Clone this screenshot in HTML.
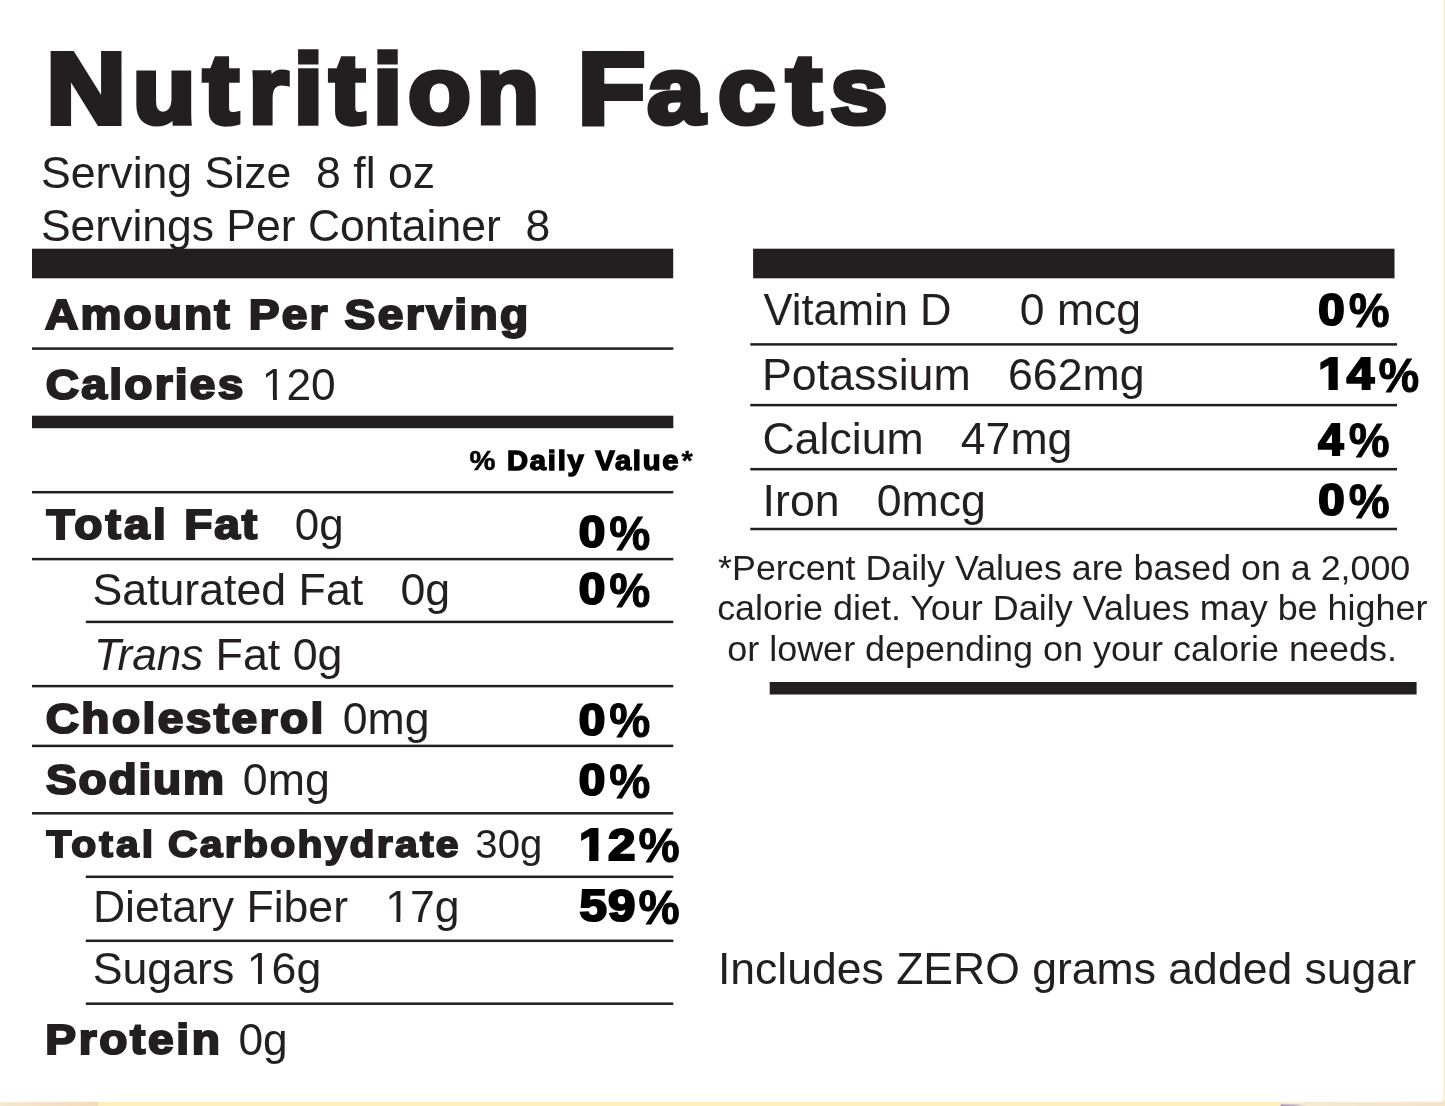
<!DOCTYPE html>
<html lang="en"><head><meta charset="utf-8"><title>Nutrition Facts</title>
<style>
html,body{margin:0;padding:0;background:#fff;}
body{width:1445px;height:1106px;overflow:hidden;position:relative;font-family:"Liberation Sans",Arial,Helvetica,sans-serif;}
svg{position:absolute;left:0;top:0;display:block;font-family:"Liberation Sans",Arial,Helvetica,sans-serif;}
text{white-space:pre;}
</style></head><body>
<svg width="1445" height="1106" viewBox="0 0 1445 1106">
<g fill="#231f20">
<rect x="32" y="248.7" width="641.2" height="29.6"/>
<rect x="753.1" y="248.7" width="641.4" height="29.6"/>
<rect x="32" y="415.7" width="641.3" height="12.5"/>
<rect x="769.7" y="682" width="646.9" height="12.5"/>
<rect x="32" y="347.35" width="641.3" height="2.5"/>
<rect x="32" y="490.95" width="641.3" height="2.5"/>
<rect x="32" y="557.85" width="641.3" height="2.5"/>
<rect x="32" y="684.85" width="641.3" height="2.5"/>
<rect x="32" y="744.65" width="641.3" height="2.5"/>
<rect x="32" y="812.05" width="641.3" height="2.5"/>
<rect x="85.8" y="620.65" width="587.5" height="2.5"/>
<rect x="85.8" y="875.55" width="587.5" height="2.5"/>
<rect x="85.8" y="939.55" width="587.5" height="2.5"/>
<rect x="85.8" y="1002.45" width="587.5" height="2.5"/>
<rect x="750.3" y="343.15" width="646.7" height="2.5"/>
<rect x="750.3" y="403.85" width="646.7" height="2.5"/>
<rect x="750.3" y="467.95" width="646.7" height="2.5"/>
<rect x="750.3" y="527.75" width="646.7" height="2.5"/>
</g>
<defs>
<linearGradient id="gl" x1="0" x2="1" y1="0" y2="0"><stop offset="0" stop-color="#f6e9d2"/><stop offset="0.45" stop-color="#f4e2c6"/><stop offset="1" stop-color="#f2dbb9"/></linearGradient>
<linearGradient id="gr" x1="0" x2="1" y1="0" y2="0"><stop offset="0" stop-color="#f6ecd6"/><stop offset="0.5" stop-color="#f5e6cf"/><stop offset="1" stop-color="#f4e4cc"/></linearGradient>
<linearGradient id="gp" x1="0" x2="1" y1="0" y2="0"><stop offset="0" stop-color="#8f7aa6" stop-opacity="0.85"/><stop offset="0.6" stop-color="#a898b4" stop-opacity="0.6"/><stop offset="1" stop-color="#c8bcc8" stop-opacity="0"/></linearGradient>
</defs>
<rect x="0" y="1101.9" width="1445" height="4.1" fill="#ffefbd"/>
<rect x="0" y="1101.9" width="98.2" height="4.1" fill="url(#gl)"/>
<rect x="1280.3" y="1101.9" width="164.7" height="4.1" fill="url(#gr)"/>
<rect x="1280.6" y="1104.4" width="26" height="1.6" fill="url(#gp)"/>
<rect x="1443.6" y="0" width="1.4" height="1106" fill="#f5e6cc"/>
<path d="M1441.5 1101.9 L1443.6 1101.9 L1443.6 1099.8 Z" fill="#f5e6cc"/>

<text xml:space="preserve" transform="scale(1.0900 1)" fill="#231f20" font-weight="700" stroke="#231f20" stroke-linejoin="miter" stroke-miterlimit="3"><tspan x="42.64" y="122.95" font-size="100.60" stroke-width="5.90">N</tspan><tspan x="121.72" y="123.33" font-size="94.40" stroke-width="5.15">u</tspan><tspan x="186.43" y="123.25" font-size="98.00" stroke-width="5.30">t</tspan><tspan x="228.09" y="123.33" font-size="94.40" stroke-width="5.15">r</tspan><tspan x="269.19" y="123.25" font-size="98.00" stroke-width="5.30">i</tspan><tspan x="302.31" y="123.25" font-size="98.00" stroke-width="5.30">t</tspan><tspan x="341.94" y="123.25" font-size="98.00" stroke-width="5.30">i</tspan><tspan x="374.29" y="123.33" font-size="94.40" stroke-width="5.15">o</tspan><tspan x="437.22" y="123.33" font-size="94.40" stroke-width="5.15">n</tspan></text>
<text xml:space="preserve" transform="scale(1.0900 1)" fill="#231f20" font-weight="700" stroke="#231f20" stroke-linejoin="miter" stroke-miterlimit="3"><tspan x="530.23" y="122.95" font-size="100.60" stroke-width="5.90">F</tspan><tspan x="593.76" y="123.33" font-size="94.40" stroke-width="5.15">a</tspan><tspan x="658.70" y="123.33" font-size="94.40" stroke-width="5.15">c</tspan><tspan x="721.43" y="123.25" font-size="98.00" stroke-width="5.30">t</tspan><tspan x="761.78" y="123.33" font-size="94.40" stroke-width="5.15">s</tspan></text>
<text xml:space="preserve" transform="translate(40.96 188.20) scale(0.9979 1)" font-size="44.700" fill="#231f20">Serving Size  8 fl oz</text>
<text xml:space="preserve" transform="translate(40.94 240.90) scale(0.9954 1)" font-size="44.700" fill="#231f20">Servings Per Container  8</text>
<text xml:space="preserve" transform="translate(45.09 329.44) scale(1.0900 1)" font-size="42.310" fill="#231f20" font-weight="700" stroke="#231f20" stroke-width="2.115" stroke-linejoin="miter" stroke-miterlimit="3" letter-spacing="1.918">Amount</text>
<text xml:space="preserve" transform="translate(248.81 329.44) scale(1.0900 1)" font-size="42.310" fill="#231f20" font-weight="700" stroke="#231f20" stroke-width="2.115" stroke-linejoin="miter" stroke-miterlimit="3" letter-spacing="1.927">Per</text>
<text xml:space="preserve" transform="translate(344.58 329.44) scale(1.0900 1)" font-size="42.310" fill="#231f20" font-weight="700" stroke="#231f20" stroke-width="2.115" stroke-linejoin="miter" stroke-miterlimit="3" letter-spacing="2.215">Serving</text>
<text xml:space="preserve" transform="translate(45.76 398.94) scale(1.0900 1)" font-size="42.310" fill="#231f20" font-weight="700" stroke="#231f20" stroke-width="2.115" stroke-linejoin="miter" stroke-miterlimit="3" letter-spacing="2.052">Calories</text>
<text xml:space="preserve" transform="translate(261.84 400.00) scale(1.0000 1)" font-size="44.300" fill="#231f20">120</text>
<rect x="264.22" y="395.89" width="8.77" height="5.81" fill="#fff"/>
<rect x="276.90" y="395.89" width="8.42" height="5.81" fill="#fff"/>
<text xml:space="preserve" transform="translate(469.49 470.43) scale(1.0900 1)" font-size="26.812" fill="#000" font-weight="700" stroke="#000" stroke-width="1.341" stroke-linejoin="miter" stroke-miterlimit="3" letter-spacing="1.579"><tspan stroke-width="0.536">%</tspan> Daily Value<tspan stroke-width="0.268" dx="1.07">*</tspan></text>
<text xml:space="preserve" transform="translate(46.41 539.24) scale(1.0900 1)" font-size="42.310" fill="#231f20" font-weight="700" stroke="#231f20" stroke-width="2.115" stroke-linejoin="miter" stroke-miterlimit="3" letter-spacing="2.888">Total</text>
<text xml:space="preserve" transform="translate(184.32 539.24) scale(1.0900 1)" font-size="42.310" fill="#231f20" font-weight="700" stroke="#231f20" stroke-width="2.115" stroke-linejoin="miter" stroke-miterlimit="3" letter-spacing="1.707">Fat</text>
<text xml:space="preserve" transform="translate(294.73 540.20) scale(0.9827 1)" font-size="44.700" fill="#231f20">0g</text>
<text xml:space="preserve" transform="translate(578.79 547.10) scale(1.0838 1)" font-size="43.994" fill="#000" font-weight="700" stroke="#000" stroke-width="2.200" stroke-linejoin="miter" stroke-miterlimit="3">0</text>
<text xml:space="preserve" transform="translate(609.28 549.53) scale(0.9581 1)" font-size="48.200" fill="#000" font-weight="700" stroke="#000" stroke-width="0.964" stroke-linejoin="miter" stroke-miterlimit="3">%</text>
<text xml:space="preserve" transform="translate(92.39 605.00) scale(1.0001 1)" font-size="44.700" fill="#231f20">Saturated Fat   0g</text>
<text xml:space="preserve" transform="translate(578.79 604.40) scale(1.0838 1)" font-size="43.994" fill="#000" font-weight="700" stroke="#000" stroke-width="2.200" stroke-linejoin="miter" stroke-miterlimit="3">0</text>
<text xml:space="preserve" transform="translate(609.28 606.83) scale(0.9581 1)" font-size="48.200" fill="#000" font-weight="700" stroke="#000" stroke-width="0.964" stroke-linejoin="miter" stroke-miterlimit="3">%</text>
<text xml:space="preserve" transform="translate(93.94 669.80) scale(0.9864 1)" font-size="44.700" fill="#231f20" font-style="italic">Trans</text>
<text xml:space="preserve" transform="translate(215.53 669.80) scale(1.0022 1)" font-size="44.700" fill="#231f20">Fat 0g</text>
<text xml:space="preserve" transform="translate(45.66 733.34) scale(1.0900 1)" font-size="42.310" fill="#231f20" font-weight="700" stroke="#231f20" stroke-width="2.115" stroke-linejoin="miter" stroke-miterlimit="3" letter-spacing="2.210">Cholesterol</text>
<text xml:space="preserve" transform="translate(342.70 734.20) scale(0.9989 1)" font-size="44.700" fill="#231f20">0mg</text>
<text xml:space="preserve" transform="translate(578.79 735.00) scale(1.0838 1)" font-size="43.994" fill="#000" font-weight="700" stroke="#000" stroke-width="2.200" stroke-linejoin="miter" stroke-miterlimit="3">0</text>
<text xml:space="preserve" transform="translate(609.28 737.43) scale(0.9581 1)" font-size="48.200" fill="#000" font-weight="700" stroke="#000" stroke-width="0.964" stroke-linejoin="miter" stroke-miterlimit="3">%</text>
<text xml:space="preserve" transform="translate(46.04 793.74) scale(1.0900 1)" font-size="42.310" fill="#231f20" font-weight="700" stroke="#231f20" stroke-width="2.115" stroke-linejoin="miter" stroke-miterlimit="3" letter-spacing="1.631">Sodium</text>
<text xml:space="preserve" transform="translate(242.80 794.80) scale(1.0001 1)" font-size="44.700" fill="#231f20">0mg</text>
<text xml:space="preserve" transform="translate(578.79 795.40) scale(1.0838 1)" font-size="43.994" fill="#000" font-weight="700" stroke="#000" stroke-width="2.200" stroke-linejoin="miter" stroke-miterlimit="3">0</text>
<text xml:space="preserve" transform="translate(609.28 797.83) scale(0.9581 1)" font-size="48.200" fill="#000" font-weight="700" stroke="#000" stroke-width="0.964" stroke-linejoin="miter" stroke-miterlimit="3">%</text>
<text xml:space="preserve" transform="translate(46.38 857.06) scale(1.0900 1)" font-size="37.488" fill="#231f20" font-weight="700" stroke="#231f20" stroke-width="1.874" stroke-linejoin="miter" stroke-miterlimit="3" letter-spacing="2.802">Total</text>
<text xml:space="preserve" transform="translate(168.08 857.06) scale(1.0900 1)" font-size="37.488" fill="#231f20" font-weight="700" stroke="#231f20" stroke-width="1.874" stroke-linejoin="miter" stroke-miterlimit="3" letter-spacing="2.068">Carbohydrate</text>
<text xml:space="preserve" transform="translate(475.33 857.80) scale(0.9954 1)" font-size="40.300" fill="#231f20">30g</text>
<text xml:space="preserve" transform="translate(578.93 859.80) scale(1.1200 1)" font-size="43.994" fill="#000" font-weight="700" stroke="#000" stroke-width="2.200" stroke-linejoin="miter" stroke-miterlimit="3" letter-spacing="1.494">12</text>
<rect x="579.81" y="853.41" width="9.40" height="9.19" fill="#fff"/>
<rect x="598.43" y="853.41" width="8.77" height="9.19" fill="#fff"/>
<text xml:space="preserve" transform="translate(638.45 862.23) scale(0.9605 1)" font-size="48.200" fill="#000" font-weight="700" stroke="#000" stroke-width="0.964" stroke-linejoin="miter" stroke-miterlimit="3">%</text>
<text xml:space="preserve" transform="translate(92.94 922.00) scale(0.9971 1)" font-size="44.700" fill="#231f20">Dietary Fiber   17g</text>
<rect x="387.59" y="917.86" width="8.81" height="5.84" fill="#fff"/>
<rect x="400.34" y="917.86" width="8.46" height="5.84" fill="#fff"/>
<text xml:space="preserve" transform="translate(579.39 921.20) scale(1.1200 1)" font-size="43.994" fill="#000" font-weight="700" stroke="#000" stroke-width="2.200" stroke-linejoin="miter" stroke-miterlimit="3" letter-spacing="1.028">59</text>
<text xml:space="preserve" transform="translate(638.45 923.63) scale(0.9605 1)" font-size="48.200" fill="#000" font-weight="700" stroke="#000" stroke-width="0.964" stroke-linejoin="miter" stroke-miterlimit="3">%</text>
<text xml:space="preserve" transform="translate(92.67 983.50) scale(1.0002 1)" font-size="44.700" fill="#231f20">Sugars 16g</text>
<rect x="249.16" y="979.36" width="8.84" height="5.84" fill="#fff"/>
<rect x="261.94" y="979.36" width="8.49" height="5.84" fill="#fff"/>
<text xml:space="preserve" transform="translate(45.28 1053.74) scale(1.0900 1)" font-size="42.310" fill="#231f20" font-weight="700" stroke="#231f20" stroke-width="2.115" stroke-linejoin="miter" stroke-miterlimit="3" letter-spacing="2.408">Protein</text>
<text xml:space="preserve" transform="translate(238.44 1054.80) scale(0.9917 1)" font-size="44.700" fill="#231f20">0g</text>
<text xml:space="preserve" transform="translate(763.43 325.00) scale(0.9995 1)" font-size="43.600" fill="#231f20">Vitamin D</text>
<text xml:space="preserve" transform="translate(1019.81 325.30) scale(0.9968 1)" font-size="44.700" fill="#231f20">0 mcg</text>
<text xml:space="preserve" transform="translate(1318.15 324.50) scale(1.0795 1)" font-size="43.994" fill="#000" font-weight="700" stroke="#000" stroke-width="2.200" stroke-linejoin="miter" stroke-miterlimit="3">0</text>
<text xml:space="preserve" transform="translate(1348.77 326.93) scale(0.9532 1)" font-size="48.200" fill="#000" font-weight="700" stroke="#000" stroke-width="0.964" stroke-linejoin="miter" stroke-miterlimit="3">%</text>
<text xml:space="preserve" transform="translate(762.07 389.60) scale(0.9999 1)" font-size="44.700" fill="#231f20">Potassium   662mg</text>
<text xml:space="preserve" transform="translate(1318.27 389.30) scale(1.1200 1)" font-size="43.994" fill="#000" font-weight="700" stroke="#000" stroke-width="2.200" stroke-linejoin="miter" stroke-miterlimit="3" letter-spacing="1.067">14</text>
<rect x="1319.14" y="382.91" width="9.40" height="9.19" fill="#fff"/>
<rect x="1337.76" y="382.91" width="8.77" height="9.19" fill="#fff"/>
<text xml:space="preserve" transform="translate(1378.48 391.73) scale(0.9508 1)" font-size="48.200" fill="#000" font-weight="700" stroke="#000" stroke-width="0.964" stroke-linejoin="miter" stroke-miterlimit="3">%</text>
<text xml:space="preserve" transform="translate(762.53 454.40) scale(0.9982 1)" font-size="44.700" fill="#231f20">Calcium   47mg</text>
<text xml:space="preserve" transform="translate(1318.37 454.60) scale(1.0296 1)" font-size="43.994" fill="#000" font-weight="700" stroke="#000" stroke-width="2.200" stroke-linejoin="miter" stroke-miterlimit="3">4</text>
<text xml:space="preserve" transform="translate(1348.77 457.03) scale(0.9532 1)" font-size="48.200" fill="#000" font-weight="700" stroke="#000" stroke-width="0.964" stroke-linejoin="miter" stroke-miterlimit="3">%</text>
<text xml:space="preserve" transform="translate(762.62 515.70) scale(0.9990 1)" font-size="44.700" fill="#231f20">Iron   0mcg</text>
<text xml:space="preserve" transform="translate(1318.15 515.20) scale(1.0795 1)" font-size="43.994" fill="#000" font-weight="700" stroke="#000" stroke-width="2.200" stroke-linejoin="miter" stroke-miterlimit="3">0</text>
<text xml:space="preserve" transform="translate(1348.77 517.63) scale(0.9532 1)" font-size="48.200" fill="#000" font-weight="700" stroke="#000" stroke-width="0.964" stroke-linejoin="miter" stroke-miterlimit="3">%</text>
<text xml:space="preserve" transform="translate(718.06 580.00) scale(1.0011 1)" font-size="35.800" fill="#231f20">*Percent Daily Values are based on a 2,000</text>
<text xml:space="preserve" transform="translate(717.15 620.00) scale(1.0038 1)" font-size="35.800" fill="#231f20">calorie diet. Your Daily Values may be higher</text>
<text xml:space="preserve" transform="translate(727.19 661.00) scale(1.0050 1)" font-size="35.800" fill="#231f20">or lower depending on your calorie needs.</text>
<text xml:space="preserve" transform="translate(717.93 983.90) scale(0.9966 1)" font-size="44.700" fill="#231f20">Includes ZERO grams added sugar</text>
</svg>
</body></html>
